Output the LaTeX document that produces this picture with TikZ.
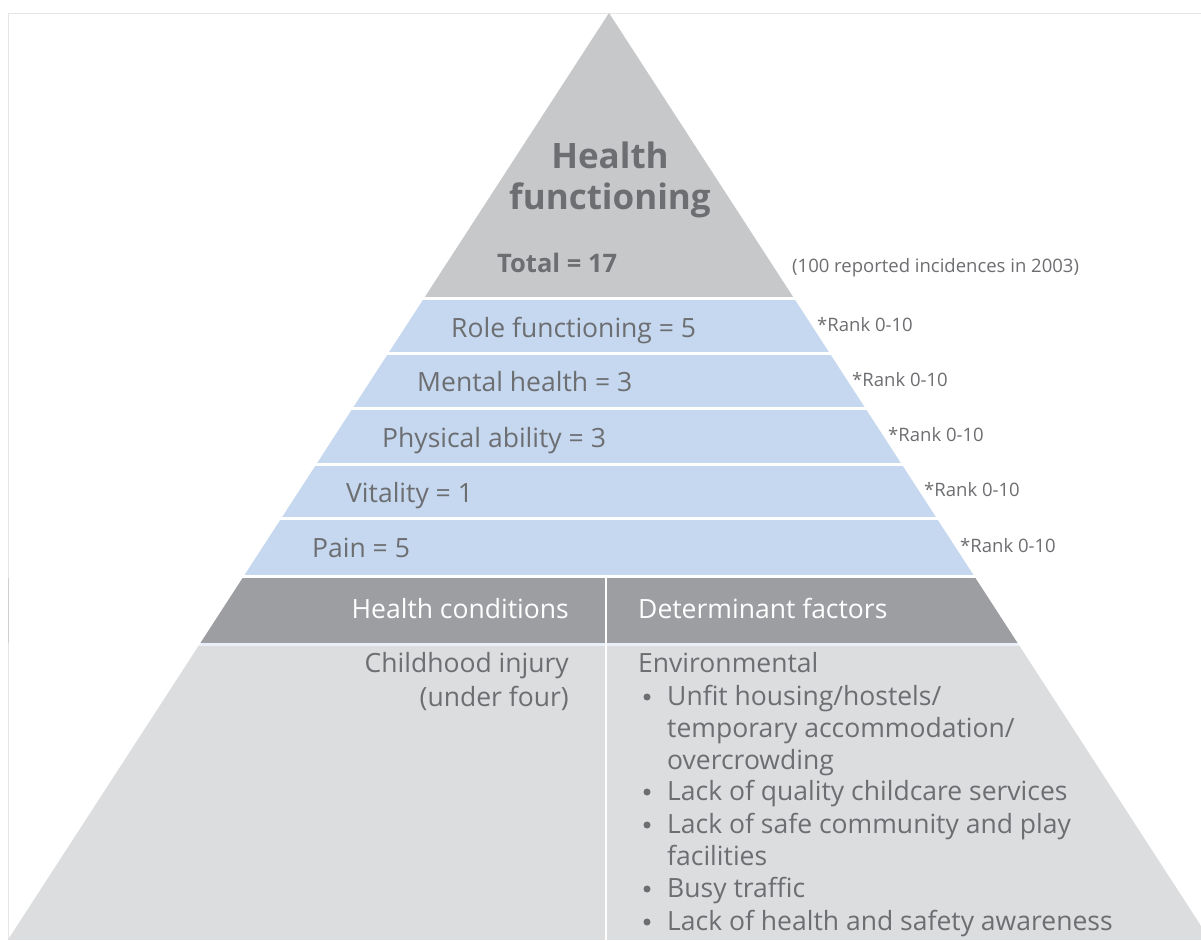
\documentclass[tikz,border=0pt]{standalone}
\usepackage{fontspec}
\setmainfont{Open Sans}
\definecolor{topgray}{HTML}{C7C8CA}
\definecolor{bandblue}{HTML}{C5D8EF}
\definecolor{headgray}{HTML}{9D9EA2}
\definecolor{bodygray}{HTML}{DCDDDF}
\definecolor{txtgray}{HTML}{6D6E71}
\definecolor{framegray}{HTML}{E6E6E6}
\tikzset{
  lbl/.style={anchor=base west, inner sep=0pt, text=txtgray, font=\fontsize{26.5}{32.5}\selectfont},
  lblr/.style={lbl, anchor=base east},
  hdr/.style={lbl, text=white},
  rank/.style={lbl, font=\fontsize{18.5}{22}\selectfont},
  ttl/.style={anchor=base, inner sep=0pt, text=txtgray, font=\bfseries\fontsize{35}{41}\selectfont},
  dot/.style={circle, fill=txtgray, inner sep=0pt, minimum size=7pt}
}
\begin{document}
\begin{tikzpicture}[x=1pt,y=-1pt]
      \useasboundingbox (0,0) rectangle (1201,940);
      \fill[white] (0,0) rectangle (1201,940);
      \draw[framegray] (8,940) -- (8,13) -- (1201,13);
      \draw[headgray!50] (8,578) -- (8,643);
      % pyramid, cut into layers
      \begin{scope}
        \clip (609,13) -- (1210.2,940) -- (7.8,940) -- cycle;
        \fill[topgray] (0,0) rectangle (1201,297);
        \foreach \t/\b in {300/352,355/407,410/463,466/517,520/575}
          \fill[bandblue] (0,\t) rectangle (1201,\b);
        \fill[headgray] (0,578) rectangle (1201,643);
        \fill[bandblue!40] (0,643) rectangle (1201,646);
        \fill[bodygray] (0,646) rectangle (1201,940);
        \fill[white] (604.8,578) rectangle (607.4,940);
      \end{scope}
      % top
      \node[ttl] (title1) at (610,168) {Health};
      \node[ttl] (title2) at (610,209) {functioning};
      \node[lbl, font=\bfseries\fontsize{25.5}{30}\selectfont] (total) at (497,272) {Total = 17};
      \node[rank] (incid) at (792,272) {(100 reported incidences in 2003)};
      % layers
      \foreach \x/\y/\txt [count=\i] in {451/337/Role functioning = 5,417/391/Mental health = 3,
          382/447/Physical ability = 3,346/502/Vitality = 1,312/557/Pain = 5}
        \node[lbl] (layer\i) at (\x,\y) {\txt};
      \foreach \x/\y [count=\i] in {817/331,852/386,888/441,924/496,960/552}
        \node[rank] (rank\i) at (\x,\y) {*Rank 0-10};
      % columns
      \node[hdr, anchor=base east] (cond) at (569,618) {Health conditions};
      \node[hdr] (factors) at (638,618) {Determinant factors};
      \node[lblr] (injury) at (569,672) {Childhood injury};
      \node[lblr] (under) at (569,706) {(under four)};
      \node[lbl] (env) at (638,672) {Environmental};
      \foreach \y [count=\i] in {705,800,833,897,930}
        \node[dot] (dot\i) at (647,\y-8) {};
      \foreach \y/\txt [count=\i] in {705/{Unfit housing/hostels/},737/{temporary accommodation/},
          769/overcrowding,800/Lack of quality childcare services,833/Lack of safe community and play,
          865/facilities,897/Busy traffic,930/Lack of health and safety awareness}
        \node[lbl] (item\i) at (667,\y) {\txt};
\end{tikzpicture}
\end{document}
